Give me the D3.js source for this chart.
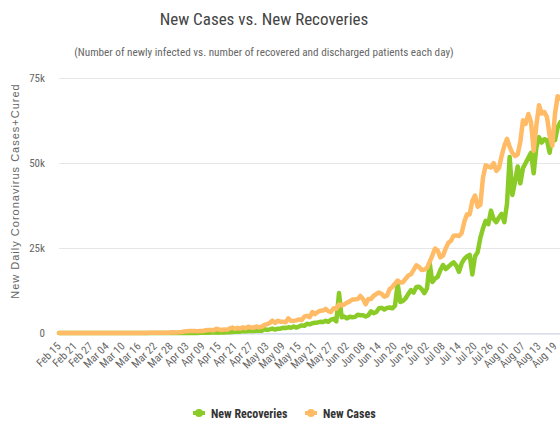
<!DOCTYPE html>
<html>
<head>
<meta charset="utf-8">
<script src="https://cdn.jsdelivr.net/npm/d3@7"></script>
<style>
  body { margin: 0; background: #fff; }
  svg { display: block; }
</style>
</head>
<body>
<script>
// daily values, one entry per day starting Feb 15 2020
let startDate = new Date(2020, 1, 15);

let newCases = [
  0,0,0,0,0,0,0,0,0,0,0,0,0,0,0,
  0,0,2,1,22,2,1,3,5,9,15,8,10,10,19,12,12,22,14,43,56,77,87,74,93,69,85,154,194,104,227,
  309,424,486,560,579,609,484,573,565,813,871,854,758,1243,1031,886,1061,922,1371,1580,1239,1537,1292,1667,1408,1835,1607,1568,1902,1705,
  1801,2396,2564,2952,3656,2971,3602,3344,3339,3175,4311,3592,3562,3726,3991,3808,4794,5050,4628,6147,5553,6198,6568,6629,7111,6414,6166,7261,7123,8380,8171,
  8392,8909,9304,9851,9887,9971,10882,9983,8442,9985,9996,10956,11458,11929,11502,10667,10974,12881,13586,14516,15413,14821,14933,15968,16922,17296,18552,19906,19459,18522,
  18653,19148,20903,22771,24850,24248,22252,22752,24879,26506,27114,28637,28701,28498,29429,32695,34956,34884,38902,40425,37148,37724,45720,49310,48916,48661,49931,47703,48513,52123,55079,
  57118,54735,52972,52050,52509,56282,62538,61537,64399,62064,53601,60963,66999,64553,65002,63490,57981,55079,64531,69652,68898
];

let newRecoveries = [
  0,0,0,0,0,0,0,0,0,0,0,0,0,0,0,
  0,0,0,0,0,0,0,0,0,0,0,0,0,4,0,3,0,1,2,1,3,0,11,7,2,10,20,19,34,6,54,
  12,14,25,25,41,33,33,60,37,70,49,112,137,141,108,183,171,227,232,291,388,419,394,608,491,578,642,567,690,686,
  630,1104,900,1062,1292,1000,1243,1273,1513,1474,1668,1559,1931,1586,1904,2234,2097,2715,2538,2886,3002,3113,3280,3234,3585,3280,3935,4167,3414,11735,4614,
  4835,4305,4776,4614,4735,5355,5220,5232,4822,5219,6363,5823,6166,7263,7390,6922,7390,7500,7263,8049,14500,9120,9440,10215,11500,12600,11900,13500,13600,12900,
  11700,13100,20600,15000,16000,16500,18500,20000,18800,19500,20200,20800,19800,18000,20500,21800,22500,23000,17200,22500,23800,28000,30800,33000,32000,36000,33500,32600,34000,35000,32600,
  38000,51800,40600,44500,49000,44000,48500,50000,51500,53000,47000,54500,57600,56000,57000,56700,53000,58500,56700,60500,62000
];

let tickLabels = ['Feb 15','Feb 21','Feb 27','Mar 04','Mar 10','Mar 16','Mar 22','Mar 28',
  'Apr 03','Apr 09','Apr 15','Apr 21','Apr 27','May 03','May 09','May 15','May 21','May 27',
  'Jun 02','Jun 08','Jun 14','Jun 20','Jun 26','Jul 02','Jul 08','Jul 14','Jul 20','Jul 26',
  'Aug 01','Aug 07','Aug 13','Aug 19'];

let yTicks = [0, 25000, 50000, 75000];

let seriesNames = ['New Recoveries', 'New Cases'];
let seriesColors = ['#8acb27', '#ffbb66'];

let narrow = '"Liberation Sans Narrow", "Roboto Condensed", "DejaVu Sans Condensed", sans-serif';

let svg = d3.select('body').append('svg').attr('width', 560).attr('height', 421);
svg.append('rect').attr('width', 560).attr('height', 421).attr('fill', '#fff');

let x = d3.scaleLinear().domain([0, 186]).range([59, 555]);
let y = d3.scaleLinear().domain([0, 75000]).range([333, 78]);

svg.append('text').attr('x', 264).attr('y', 25).attr('text-anchor', 'middle')
  .attr('font-family', narrow).attr('font-size', '17px').attr('fill', '#444')
  .text('New Cases vs. New Recoveries');

svg.append('text').attr('x', 264).attr('y', 56).attr('text-anchor', 'middle')
  .attr('font-family', narrow).attr('font-size', '11.2px').attr('fill', '#666')
  .text('(Number of newly infected vs. number of recovered and discharged patients each day)');

// y axis with grid
let yAxis = svg.append('g').attr('transform', 'translate(59,0)')
  .call(d3.axisLeft(y).tickValues(yTicks).tickSize(-520).tickPadding(14)
    .tickFormat(d => d === 0 ? '0' : (d / 1000) + 'k'));
yAxis.select('.domain').remove();
yAxis.selectAll('line').attr('stroke', '#e6e6e6');
yAxis.selectAll('text').attr('font-family', narrow).attr('font-size', '11px').attr('fill', '#666');

svg.append('text')
  .attr('transform', 'translate(19,191) rotate(-90)')
  .attr('text-anchor', 'middle')
  .attr('font-family', '"Liberation Sans", sans-serif').attr('font-size', '11px')
  .attr('letter-spacing', '1px').attr('fill', '#666')
  .text('New Daily Coronavirus Cases+Cured');

// x axis
let tickIdx = tickLabels.map((d, i) => i * 6);
let xAxis = svg.append('g').attr('transform', 'translate(0,334)')
  .call(d3.axisBottom(x).tickValues(tickIdx).tickSize(0)
    .tickFormat((d, i) => tickLabels[i]));
xAxis.select('.domain').attr('stroke', '#ccd6eb').attr('d', 'M59,0H560');
xAxis.selectAll('text')
  .attr('font-family', narrow).attr('font-size', '11px').attr('fill', '#666')
  .attr('text-anchor', 'end')
  .attr('dy', null).attr('y', null)
  .attr('transform', 'translate(2,13) rotate(-45)');

// lines
let line = d3.line().x((d, i) => x(i)).y(d => y(d));
[newRecoveries, newCases].forEach((s, k) => {
  svg.append('path').datum(s)
    .attr('d', line)
    .attr('fill', 'none')
    .attr('stroke', seriesColors[k])
    .attr('stroke-width', 4.5)
    .attr('stroke-linejoin', 'round')
    .attr('stroke-linecap', 'round');
});

// legend
let legendX = [193, 305];
seriesNames.forEach((name, k) => {
  let g = svg.append('g').attr('transform', 'translate(' + legendX[k] + ',413)');
  g.append('line').attr('x1', 0).attr('x2', 12).attr('y1', 0).attr('y2', 0)
    .attr('stroke', seriesColors[k]).attr('stroke-width', 4);
  g.append('circle').attr('cx', 6).attr('cy', 0).attr('r', 4).attr('fill', seriesColors[k]);
  g.append('text').attr('x', 18).attr('y', 4.5)
    .attr('font-family', narrow).attr('font-size', '12px').attr('font-weight', 'bold')
    .attr('fill', '#333').text(name);
});
</script>
</body>
</html>
